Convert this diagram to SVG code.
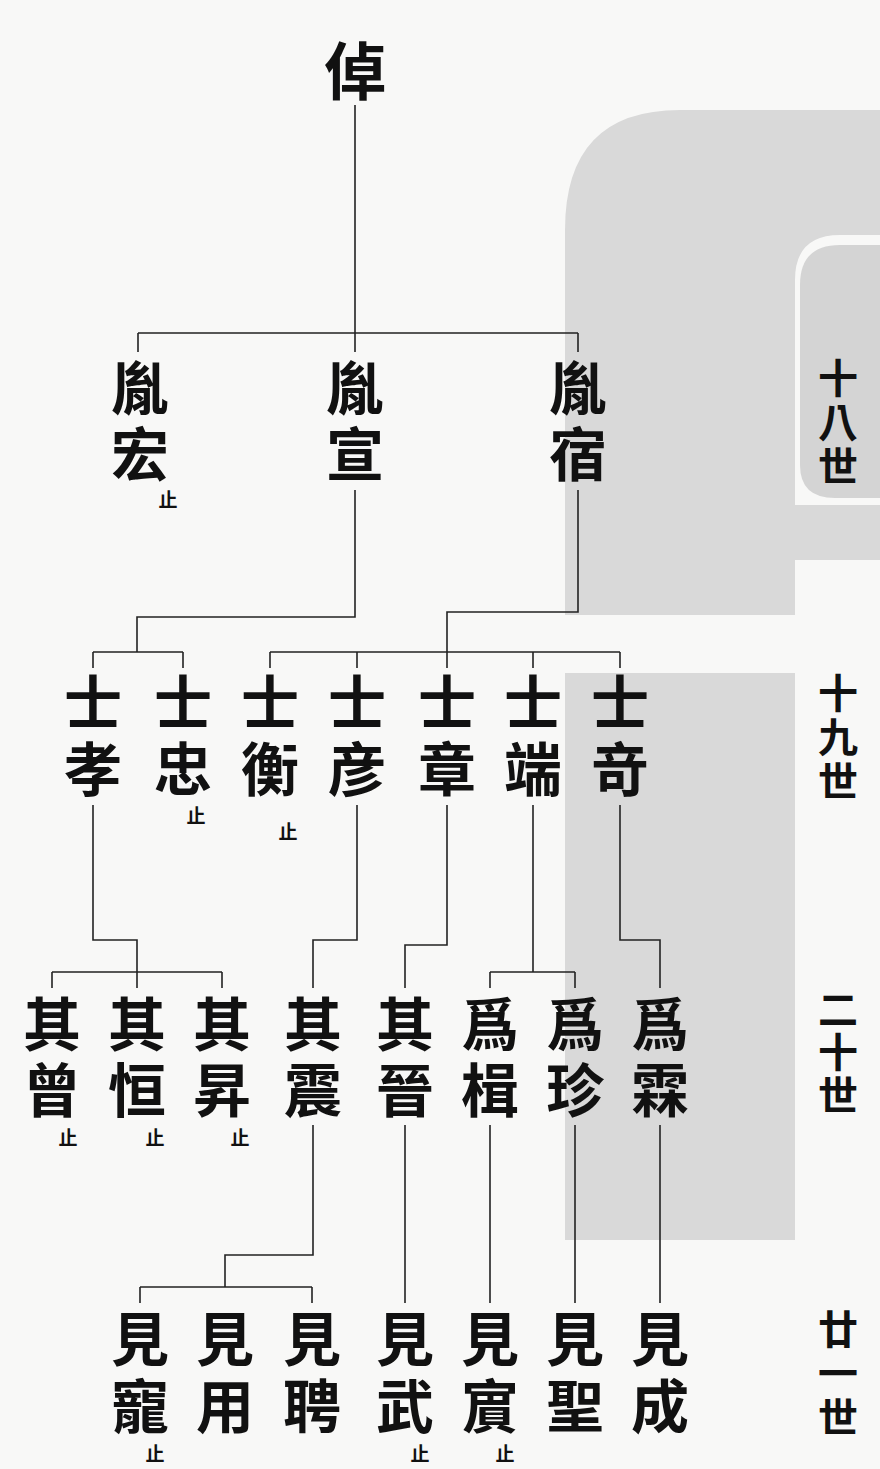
<svg xmlns="http://www.w3.org/2000/svg" width="880" height="1469" viewBox="0 0 880 1469">
<defs>
<style>
.n{font-family:"Noto Sans CJK TC","Noto Sans CJK SC",sans-serif;font-size:58px;font-weight:700;fill:#111;writing-mode:vertical-rl}
.z{font-family:"Noto Sans CJK TC","Noto Sans CJK SC",sans-serif;font-size:19px;font-weight:700;fill:#111;text-anchor:middle}
.g{font-family:"Noto Sans CJK TC","Noto Sans CJK SC",sans-serif;font-size:40px;font-weight:700;fill:#111;writing-mode:vertical-rl}
.c{fill:none;stroke:#222;stroke-width:1.6}
</style>
</defs>
<rect width="880" height="1469" fill="#f8f8f7"/>
<g id="watermark" fill="#d9d9d9">
<path d="M565 615 V230 Q565 110 680 110 H880 V235 H840 Q795 235 795 280 V505 H880 V560 H795 V615 Z"/>
<path d="M565 673 H795 V1240 H565 Z"/>
<path d="M880 245 H840 Q800 245 800 285 V465 Q800 498 835 498 H880 Z" fill="#d4d4d4"/>
</g>
<g id="connectors" class="c">
<path d="M355 105 V333 M138 333 H578 M138 333 V352 M355 333 V352 M578 333 V352"/>
<path d="M355 490 V617 H137 V652 M93 652 H183 M93 652 V668 M183 652 V668"/>
<path d="M578 490 V612 H447 V652 M270 652 H620 M270 652 V668 M357 652 V668 M447 652 V668 M533 652 V668 M620 652 V668"/>
<path d="M93 805 V940 H137 V972 M52 972 H222 M52 972 V988 M137 972 V988 M222 972 V988"/>
<path d="M357 805 V940 H313 V988"/>
<path d="M447 805 V945 H405 V988"/>
<path d="M533 805 V972 M490 972 H575 M490 972 V988 M575 972 V988"/>
<path d="M620 805 V940 H660 V988"/>
<path d="M313 1125 V1255 H225 V1287 M140 1287 H312 M140 1287 V1303 M312 1287 V1303"/>
<path d="M405 1125 V1303 M490 1125 V1303 M575 1125 V1303 M660 1125 V1303"/>
</g>
<g id="n-zhuo"><text class="n" x="355" y="40" style="font-size:62px">倬</text></g>
<g id="n-yinhong"><text class="n" x="140" y="359">胤</text><text class="n" x="140" y="425">宏</text><text class="z" x="168" y="507">止</text></g>
<g id="n-yinxuan"><text class="n" x="355" y="359">胤</text><text class="n" x="355" y="425">宣</text></g>
<g id="n-yinsu"><text class="n" x="578" y="359">胤</text><text class="n" x="578" y="425">宿</text></g>
<g id="n-shixiao"><text class="n" x="93" y="673">士</text><text class="n" x="93" y="740">孝</text></g>
<g id="n-shizhong"><text class="n" x="183" y="673">士</text><text class="n" x="183" y="740">忠</text><text class="z" x="196" y="823">止</text></g>
<g id="n-shiheng"><text class="n" x="270" y="673">士</text><text class="n" x="270" y="740">衡</text><text class="z" x="288" y="839">止</text></g>
<g id="n-shiyan"><text class="n" x="357" y="673">士</text><text class="n" x="357" y="740">彦</text></g>
<g id="n-shizhang"><text class="n" x="447" y="673">士</text><text class="n" x="447" y="740">章</text></g>
<g id="n-shiduan"><text class="n" x="533" y="673">士</text><text class="n" x="533" y="740">端</text></g>
<g id="n-shiqi"><text class="n" x="620" y="673">士</text><text class="n" x="620" y="740">竒</text></g>
<g id="n-qiceng"><text class="n" x="52" y="995">其</text><text class="n" x="52" y="1061">曾</text><text class="z" x="68" y="1145">止</text></g>
<g id="n-qiheng"><text class="n" x="137" y="995">其</text><text class="n" x="137" y="1061">恒</text><text class="z" x="155" y="1145">止</text></g>
<g id="n-qisheng"><text class="n" x="222" y="995">其</text><text class="n" x="222" y="1061">昇</text><text class="z" x="240" y="1145">止</text></g>
<g id="n-qizhen"><text class="n" x="313" y="995">其</text><text class="n" x="313" y="1061">震</text></g>
<g id="n-qijin"><text class="n" x="405" y="995">其</text><text class="n" x="405" y="1061">晉</text></g>
<g id="n-weiji"><text class="n" x="490" y="995">爲</text><text class="n" x="490" y="1061">楫</text></g>
<g id="n-weizhen"><text class="n" x="575" y="995">爲</text><text class="n" x="575" y="1061">珍</text></g>
<g id="n-weilin"><text class="n" x="660" y="995">爲</text><text class="n" x="660" y="1061">霖</text></g>
<g id="n-jianchong"><text class="n" x="140" y="1310">見</text><text class="n" x="140" y="1377">寵</text><text class="z" x="155" y="1461">止</text></g>
<g id="n-jianyong"><text class="n" x="225" y="1310">見</text><text class="n" x="225" y="1377">用</text></g>
<g id="n-jianpin"><text class="n" x="312" y="1310">見</text><text class="n" x="312" y="1377">聘</text></g>
<g id="n-jianwu"><text class="n" x="405" y="1310">見</text><text class="n" x="405" y="1377">武</text><text class="z" x="420" y="1461">止</text></g>
<g id="n-jianbin"><text class="n" x="490" y="1310">見</text><text class="n" x="490" y="1377">賔</text><text class="z" x="505" y="1461">止</text></g>
<g id="n-jiansheng"><text class="n" x="575" y="1310">見</text><text class="n" x="575" y="1377">聖</text></g>
<g id="n-jiancheng"><text class="n" x="660" y="1310">見</text><text class="n" x="660" y="1377">成</text></g>
<g id="gen-labels">
<text class="g" x="838" y="358">十</text><text class="g" x="838" y="402">八</text><text class="g" x="838" y="446">世</text>
<text class="g" x="838" y="673">十</text><text class="g" x="838" y="717">九</text><text class="g" x="838" y="761">世</text>
<text class="g" x="838" y="989">二</text><text class="g" x="838" y="1032">十</text><text class="g" x="838" y="1075">世</text>
<text class="g" x="838" y="1309">廿</text><text class="g" x="838" y="1353">一</text><text class="g" x="838" y="1397">世</text>
</g>
</svg>
